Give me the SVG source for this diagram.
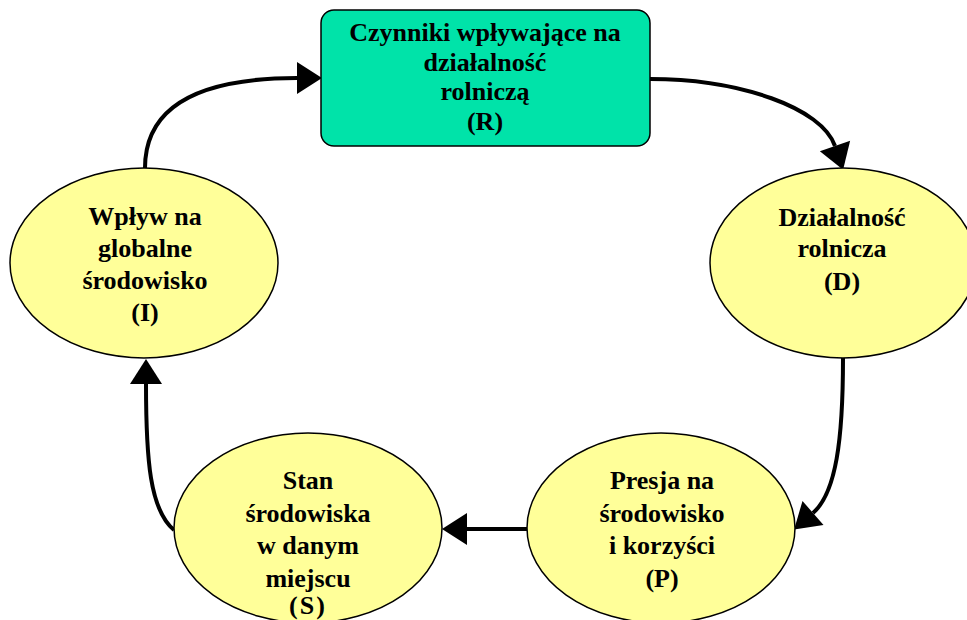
<svg xmlns="http://www.w3.org/2000/svg" width="967" height="620" viewBox="0 0 967 620">
<style>
.node{stroke:#000;stroke-width:1.5}
.ell{fill:#FFFF99}
.box{fill:#00E3A9}
text{font-family:"Liberation Serif","Times New Roman",serif;font-weight:bold;font-size:26px;fill:#000;text-anchor:middle}
.conn{fill:none;stroke:#000;stroke-width:4}
</style>
<defs>
<marker id="ah" markerUnits="userSpaceOnUse" markerWidth="26" markerHeight="34" refX="0" refY="17" orient="auto" overflow="visible">
<path d="M0,1 L25,17 L0,33 z" fill="#000"/>
</marker>
</defs>
<g id="connectors">
<path class="conn" d="M145,168 C145,112 190,78 297,78" marker-end="url(#ah)"/>
<path class="conn" d="M650,79 C740,79 822,108 835,146" marker-end="url(#ah)"/>
<path class="conn" d="M843,358 C843,440 836,493 813,513" marker-end="url(#ah)"/>
<path class="conn" d="M527,529 L467,529" marker-end="url(#ah)"/>
<path class="conn" d="M174,530 C150,510 146,460 146,384" marker-end="url(#ah)"/>
</g>
<g id="R">
<rect class="node box" x="321" y="10" width="329" height="136" rx="13" ry="13"/>
<text x="485" y="41">Czynniki wpływające na</text>
<text x="485" y="71">działalność</text>
<text x="485" y="100">rolniczą</text>
<text x="485" y="130">(R)</text>
</g>
<g id="D">
<ellipse class="node ell" cx="843" cy="263" rx="133" ry="95"/>
<text x="842" y="226">Działalność</text>
<text x="842" y="257">rolnicza</text>
<text x="842" y="290">(D)</text>
</g>
<g id="P">
<ellipse class="node ell" cx="661" cy="528" rx="134" ry="95"/>
<text x="662" y="489">Presja na</text>
<text x="662" y="522">środowisko</text>
<text x="662" y="554">i korzyści</text>
<text x="662" y="587">(P)</text>
</g>
<g id="S">
<ellipse class="node ell" cx="308" cy="528" rx="134" ry="95"/>
<text x="308" y="489">Stan</text>
<text x="308" y="522">środowiska</text>
<text x="308" y="554">w danym</text>
<text x="308" y="587">miejscu</text>
<text x="308" y="614" letter-spacing="2">(S)</text>
</g>
<g id="I">
<ellipse class="node ell" cx="144" cy="263" rx="134" ry="95"/>
<text x="145" y="225">Wpływ na</text>
<text x="145" y="257">globalne</text>
<text x="145" y="289">środowisko</text>
<text x="145" y="321">(I)</text>
</g>
</svg>
